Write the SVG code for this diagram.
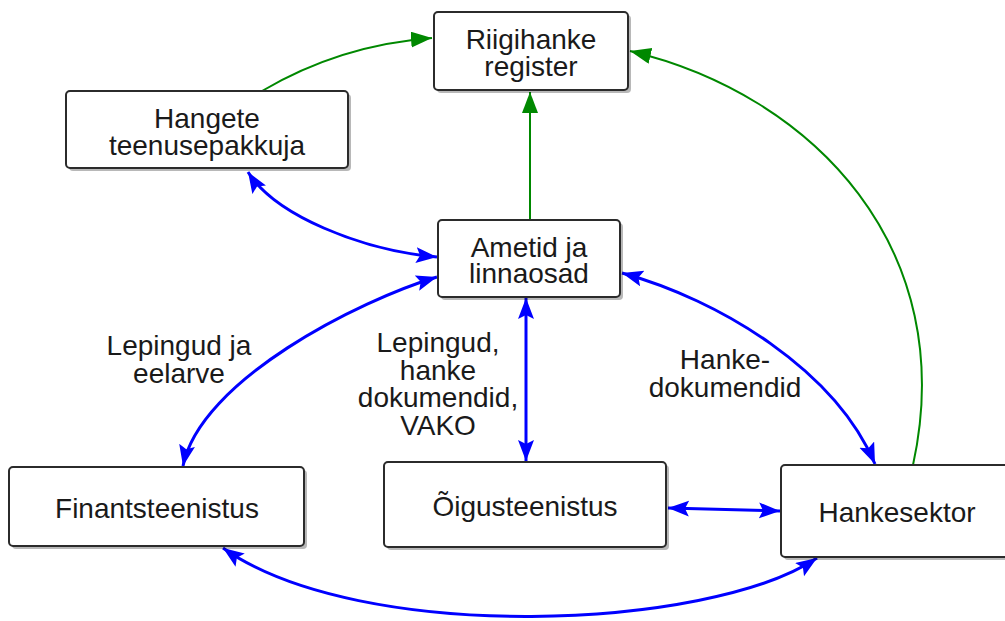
<svg xmlns="http://www.w3.org/2000/svg" width="1005" height="621" viewBox="0 0 1005 621">
<style>
.box{fill:#fff;stroke:#2b2b2b;stroke-width:2}
.sh{fill:#000;opacity:0.28}
.t{font-family:"Liberation Sans",Arial,sans-serif;font-size:28px;fill:#1a1a1a;text-anchor:middle}
.b{fill:none;stroke:#0000ff;stroke-width:3}
.g{fill:none;stroke:#008800;stroke-width:2}
</style>
<defs>
<marker id="ab" markerUnits="userSpaceOnUse" markerWidth="24" markerHeight="18" refX="21" refY="8" orient="auto-start-reverse">
<path d="M0,0 L21,8 L0,16 L4,8 z" fill="#0000ff"/>
</marker>
<marker id="ag" markerUnits="userSpaceOnUse" markerWidth="24" markerHeight="18" refX="21" refY="8" orient="auto-start-reverse">
<path d="M0,0 L21,8 L0,16 z" fill="#008800"/>
</marker>
</defs>

<g id="connectors">
<path class="g" d="M262,91 Q340,45 432,38" marker-end="url(#ag)"/>
<path class="g" d="M530,220 L530,92" marker-end="url(#ag)"/>
<path class="g" d="M913,465 C960,250 815,95 630,51" marker-end="url(#ag)"/>
<path class="b" d="M248,172 C275,215 360,250 437,257" marker-start="url(#ab)" marker-end="url(#ab)"/>
<path class="b" d="M437,277 C360,300 200,380 183,466" marker-start="url(#ab)" marker-end="url(#ab)"/>
<path class="b" d="M526,298 L526,461" marker-start="url(#ab)" marker-end="url(#ab)"/>
<path class="b" d="M622,273 C720,300 835,370 875,464" marker-start="url(#ab)" marker-end="url(#ab)"/>
<path class="b" d="M668,508 L780,511" marker-start="url(#ab)" marker-end="url(#ab)"/>
<path class="b" d="M223,548 C360,645 710,630 817,558" marker-start="url(#ab)" marker-end="url(#ab)"/>
</g>

<g id="riigihanke">
<rect class="sh" x="437" y="15" width="194" height="78" rx="4"/>
<rect class="box" x="434" y="12" width="194" height="78" rx="4"/>
<text class="t" x="531" y="49">Riigihanke</text>
<text class="t" x="531" y="76">register</text>
</g>

<g id="hangete">
<rect class="sh" x="69" y="94" width="282" height="77" rx="4"/>
<rect class="box" x="66" y="91" width="282" height="77" rx="4"/>
<text class="t" x="207" y="128">Hangete</text>
<text class="t" x="207" y="155">teenusepakkuja</text>
</g>

<g id="ametid">
<rect class="sh" x="441" y="223" width="182" height="77" rx="4"/>
<rect class="box" x="438" y="220" width="182" height="77" rx="4"/>
<text class="t" x="529" y="257">Ametid ja</text>
<text class="t" x="529" y="283">linnaosad</text>
</g>

<g id="finants">
<rect class="sh" x="12" y="470" width="295" height="79" rx="4"/>
<rect class="box" x="9" y="467" width="295" height="79" rx="4"/>
<text class="t" x="157" y="518">Finantsteenistus</text>
</g>

<g id="oigus">
<rect class="sh" x="387" y="465" width="282" height="85" rx="4"/>
<rect class="box" x="384" y="462" width="282" height="85" rx="4"/>
<text class="t" x="525" y="516">Õigusteenistus</text>
</g>

<g id="hankesektor">
<rect class="sh" x="784" y="468" width="240" height="92" rx="4"/>
<rect class="box" x="781" y="465" width="240" height="92" rx="4"/>
<text class="t" x="897" y="522">Hankesektor</text>
</g>

<g id="labels">
<text class="t" x="179" y="355">Lepingud ja</text>
<text class="t" x="179" y="383">eelarve</text>
<text class="t" x="438" y="352">Lepingud,</text>
<text class="t" x="438" y="380">hanke</text>
<text class="t" x="438" y="407">dokumendid,</text>
<text class="t" x="438" y="435">VAKO</text>
<text class="t" x="725" y="369">Hanke-</text>
<text class="t" x="725" y="397">dokumendid</text>
</g>
</svg>
